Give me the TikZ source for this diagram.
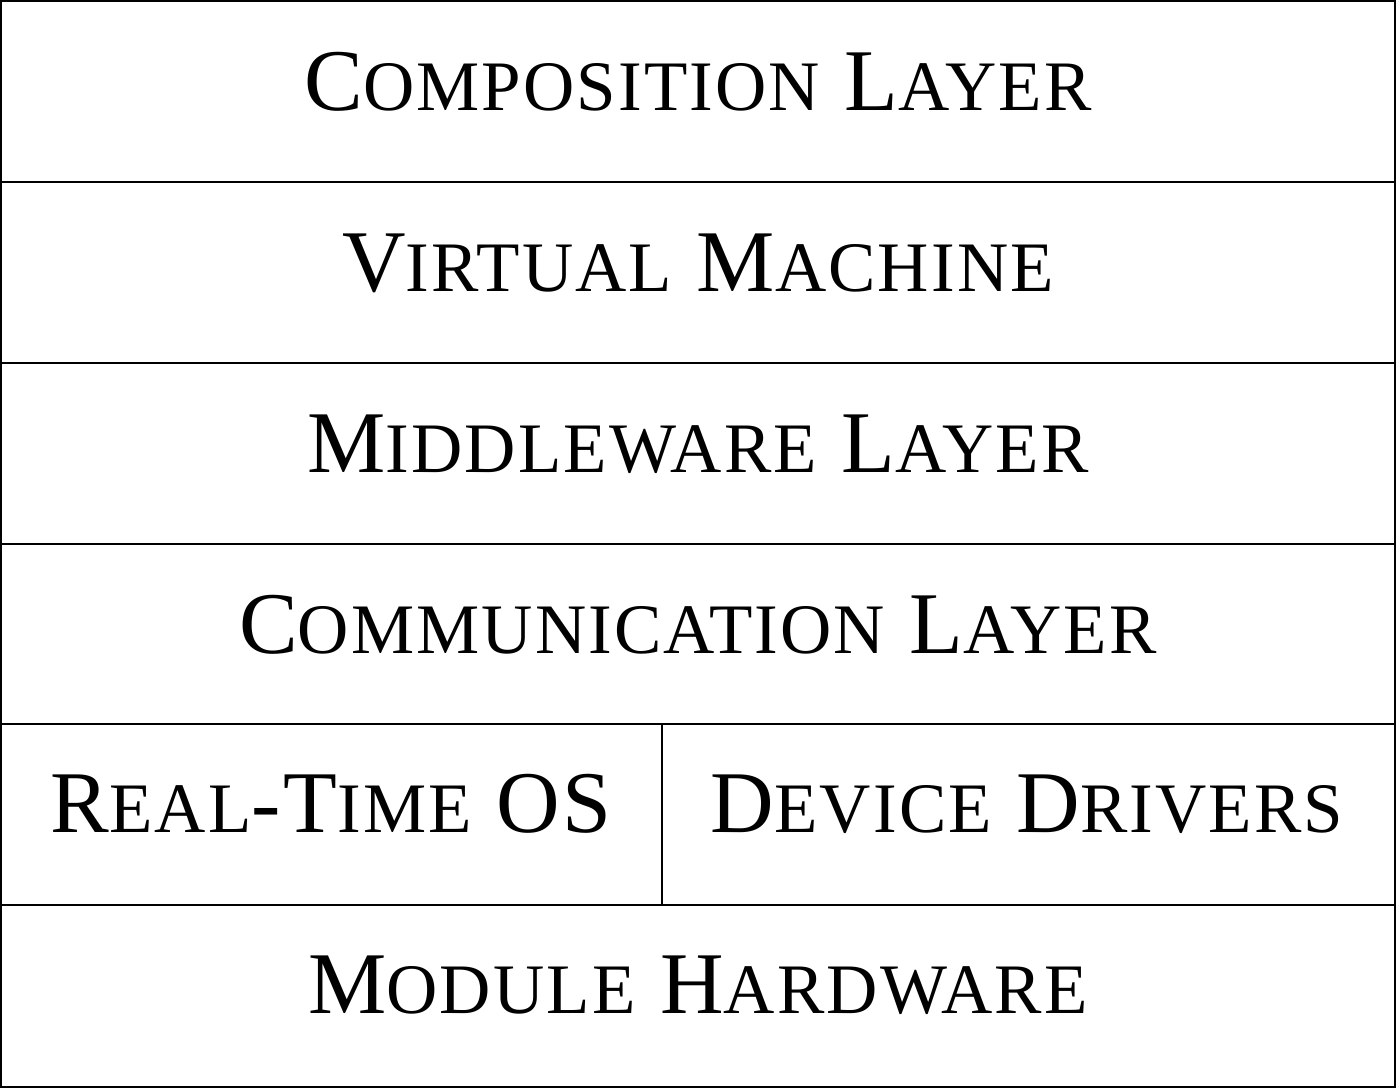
\documentclass[tikz,border=0pt]{standalone}
\usepackage{fontspec}
\setmainfont{Liberation Serif}
\newfontfamily\spaced[LetterSpace=3.0]{Liberation Serif}
\newcommand\Lg[1]{{\fontsize{88}{90}\selectfont #1}}
\newcommand\Sm[1]{{\fontsize{71}{72}\selectfont #1}}
\begin{document}
\begin{tikzpicture}[x=1pt,y=-1pt,
  layertext/.style={anchor=base,inner sep=0pt,font=\spaced\fontsize{88}{90}\selectfont},
  frame/.style={line width=2pt}]
\useasboundingbox (0,0) rectangle (1396,1088);
\draw[frame] (1,1) rectangle (1395,1087);
\foreach \y in {182,363,544,724,905} \draw[frame] (1,\y) -- (1395,\y);
\draw[frame] (662,724) -- (662,905);
\node[layertext] (comp) at (698,110) {\Lg{C}\Sm{OMPOSITION} \Lg{L}\Sm{AYER}};
\node[layertext] (vm) at (698,291) {\Lg{V}\Sm{IRTUAL} \Lg{M}\Sm{ACHINE}};
\node[layertext] (mid) at (698,472) {\Lg{M}\Sm{IDDLEWARE} \Lg{L}\Sm{AYER}};
\node[layertext] (comm) at (698,653) {\Lg{C}\Sm{OMMUNICATION} \Lg{L}\Sm{AYER}};
\node[layertext] (rtos) at (331,832) {\Lg{R}\Sm{EAL}-\Lg{T}\Sm{IME} \Lg{OS}};
\node[layertext] (dd) at (1027,832) {\Lg{D}\Sm{EVICE} \Lg{D}\Sm{RIVERS}};
\node[layertext] (hw) at (698,1013) {\Lg{M}\Sm{ODULE} \Lg{H}\Sm{ARDWARE}};
\end{tikzpicture}
\end{document}
